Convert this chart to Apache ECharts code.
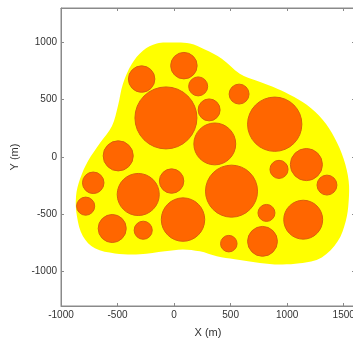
<!DOCTYPE html>
<html><head><meta charset="utf-8">
<script src="https://cdn.jsdelivr.net/npm/echarts@6/dist/echarts.min.js"></script>
<style>html,body{margin:0;padding:0;background:#fff}#c{width:353px;height:338px}</style>
</head><body><div id="c"></div>
<script>
const xTicks = [-1000, -500, 0, 500, 1000, 1500];
const yTicks = [-1000, -500, 0, 500, 1000];
const circleX = [-287, 87, 213, -72, 310, 575, 360, 890, 1170, 928, 1352, 1142, 817, 782, 484, 508, 79, -22, -317, -494, -715, -782, -547, -273];
const circleY = [680, 797, 616, 341, 411, 549, 114, 286, -66, -108, -245, -547, -488, -736, -756, -298, -546, -210, -327, 10, -225, -429, -624, -639];
const circleR = [117, 117, 84, 274, 97, 88, 185, 240, 142, 80, 88, 172, 75, 132, 73, 230, 192, 108, 186, 133, 95, 80, 124, 80];
const blobX = [-152, -37, 140, 272, 422, 581, 731, 873, 1023, 1173, 1314, 1420, 1500, 1544, 1544, 1518, 1447, 1306, 1111, 890, 714, 537, 378, 228, 78, -81, -302, -523, -700, -806, -859, -867, -832, -761, -655, -549, -496, -452, -373, -276];
const blobY = [990, 998, 990, 937, 858, 727, 666, 613, 543, 455, 324, 166, -18, -210, -385, -560, -736, -876, -928, -937, -919, -893, -867, -823, -806, -823, -849, -841, -797, -692, -517, -342, -193, -35, 123, 271, 447, 639, 814, 928];

const circles = circleX.map((x, i) => [x, circleY[i], circleR[i]]);
const axisColor = '#8a8a8a';
const labelStyle = {color: '#333', fontSize: 10, fontFamily: 'Liberation Sans, Arial, sans-serif'};
const nameStyle = {color: '#333', fontSize: 11, fontFamily: 'Liberation Sans, Arial, sans-serif'};
const fmt = v => String(v);

const chart = echarts.init(document.getElementById('c'), null, {renderer: 'canvas'});
chart.setOption({
  animation: false,
  backgroundColor: '#fff',
  grid: {left: 61, top: 8, width: 294, height: 298, containLabel: false, outerBoundsMode: 'none',
         show: true, borderColor: axisColor, borderWidth: 1, backgroundColor: 'transparent'},
  xAxis: [{
    type: 'value', min: -1000, max: 1600, position: 'bottom',
    name: 'X (m)', nameLocation: 'middle', nameGap: 21,
    nameTextStyle: nameStyle,
    axisLine: {show: true, onZero: false, lineStyle: {color: axisColor}},
    axisTick: {show: true, inside: true, length: 3, customValues: xTicks, lineStyle: {color: axisColor}},
    axisLabel: {show: true, margin: 4, customValues: xTicks, formatter: fmt, ...labelStyle},
    splitLine: {show: false}
  }, {
    type: 'value', min: -1000, max: 1600, position: 'top',
    axisLine: {show: true, onZero: false, lineStyle: {color: axisColor}},
    axisTick: {show: true, inside: true, length: 3, customValues: xTicks, lineStyle: {color: axisColor}},
    axisLabel: {show: false}, splitLine: {show: false}
  }],
  yAxis: [{
    type: 'value', min: -1300, max: 1300, position: 'left',
    name: 'Y (m)', nameLocation: 'middle', nameGap: 39,
    nameTextStyle: nameStyle,
    axisLine: {show: true, onZero: false, lineStyle: {color: axisColor}},
    axisTick: {show: true, inside: true, length: 3, customValues: yTicks, lineStyle: {color: axisColor}},
    axisLabel: {show: true, margin: 4, customValues: yTicks, formatter: fmt, ...labelStyle},
    splitLine: {show: false}
  }, {
    type: 'value', min: -1300, max: 1300, position: 'right',
    axisLine: {show: true, onZero: false, lineStyle: {color: axisColor}},
    axisTick: {show: true, inside: true, length: 3, customValues: yTicks, lineStyle: {color: axisColor}},
    axisLabel: {show: false}, splitLine: {show: false}
  }],
  series: [{
    type: 'custom',
    xAxisIndex: 0, yAxisIndex: 0,
    data: [[0, 0]],
    renderItem: function (params, api) {
      const pts = blobX.map((x, i) => api.coord([x, blobY[i]]));
      return {type: 'polygon', shape: {points: pts, smooth: 0.35}, style: {fill: '#ffff00', stroke: null}};
    },
    silent: true
  }, {
    type: 'custom',
    xAxisIndex: 0, yAxisIndex: 0,
    data: circles,
    renderItem: function (params, api) {
      const c = api.coord([api.value(0), api.value(1)]);
      const r = api.size([api.value(2), 0])[0];
      return {type: 'circle', shape: {cx: c[0], cy: c[1], r: r}, style: {fill: '#ff6600', stroke: '#d9600c', lineWidth: 1}};
    },
    silent: true
  }]
});
</script>
</body></html>
